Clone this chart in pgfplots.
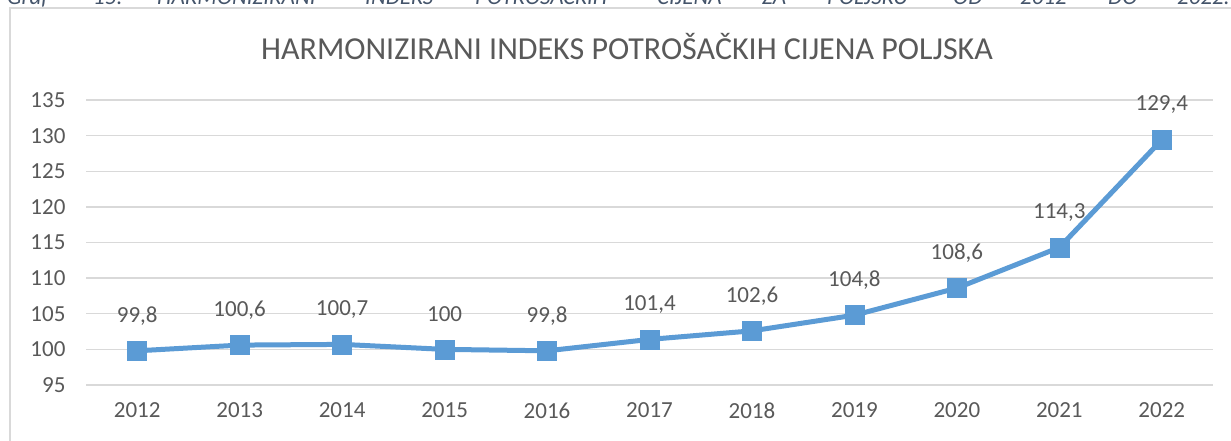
\documentclass[border=0pt]{standalone}
\usepackage{pgfplots}
\pgfplotsset{compat=1.18}
\usepackage{pgfplotstable}
\usepackage{fontspec}
\setmainfont{Carlito}
\definecolor{linec}{HTML}{5B9BD5}
\definecolor{gridc}{HTML}{D9D9D9}
\definecolor{txtc}{HTML}{595959}
\definecolor{capc}{HTML}{44546A}
\pgfplotstableread{
x y label
0 99.8 99,8
1 100.6 100,6
2 100.7 100,7
3 100 100
4 99.8 99,8
5 101.4 101,4
6 102.6 102,6
7 104.8 104,8
8 108.6 108,6
9 114.3 114,3
10 129.4 129,4
}\datatable
\begin{document}
\begin{tikzpicture}[x=1pt,y=1pt]
\useasboundingbox (0,0) rectangle (1231,440);
\begin{scope}
\clip (0,0) rectangle (1231,440);
% cut-off caption line at the very top
\begin{scope}[every node/.style={anchor=base west, inner sep=0pt, text=capc, font=\fontsize{23}{27}\selectfont\itshape}]
\node at (7,435) {Graf};
\node at (93,435) {15:};
\node at (157,435) {HARMONIZIRANI};
\node at (365,435) {INDEKS};
\node at (475,435) {POTROŠAČKIH};
\node at (657,435) {CIJENA};
\node at (762,435) {ZA};
\node at (827,435) {POLJSKU};
\node at (953,435) {OD};
\node at (1020,435) {2012};
\node at (1108,435) {DO};
\node at (1177,435) {2022.};
\end{scope}
\fill[white] (0,0) rectangle (1231,432.5);
\draw[gridc, line width=1.5pt] (10,-10) rectangle (1250,432);
\end{scope}
\node[text=txtc, font=\fontsize{32}{36}\selectfont] at (627,393) {HARMONIZIRANI INDEKS POTROŠAČKIH CIJENA POLJSKA};
\begin{axis}[
  at={(86pt,55pt)}, anchor=south west,
  scale only axis, width=1127pt, height=285pt,
  xmin=-0.5, xmax=10.5, ymin=95, ymax=135,
  xtick={0,...,10},
  xticklabels={2012,2013,2014,2015,2016,2017,2018,2019,2020,2021,2022},
  ytick={95,100,...,135},
  axis line style={draw=none},
  major tick style={draw=none},
  xmajorgrids=false, ymajorgrids=true,
  major grid style={draw=gridc, line width=1.3pt},
  /pgf/number format/assume math mode=true,
  ticklabel style={text=txtc, font=\fontsize{23}{27}\selectfont},
  yticklabel style={xshift=-17pt},
  xticklabel style={yshift=-14pt},
  clip=false,
]
\addplot[linec, line width=5pt, mark=square*, mark size=9.5pt,
  mark options={fill=linec, draw=linec, line width=0.5pt},
  nodes near coords, point meta=explicit symbolic,
  every node near coord/.append style={anchor=center, yshift=35pt, text=txtc, font=\fontsize{23}{27}\selectfont}]
  table[x=x, y=y, meta=label]{\datatable};
\end{axis}
\end{tikzpicture}
\end{document}
